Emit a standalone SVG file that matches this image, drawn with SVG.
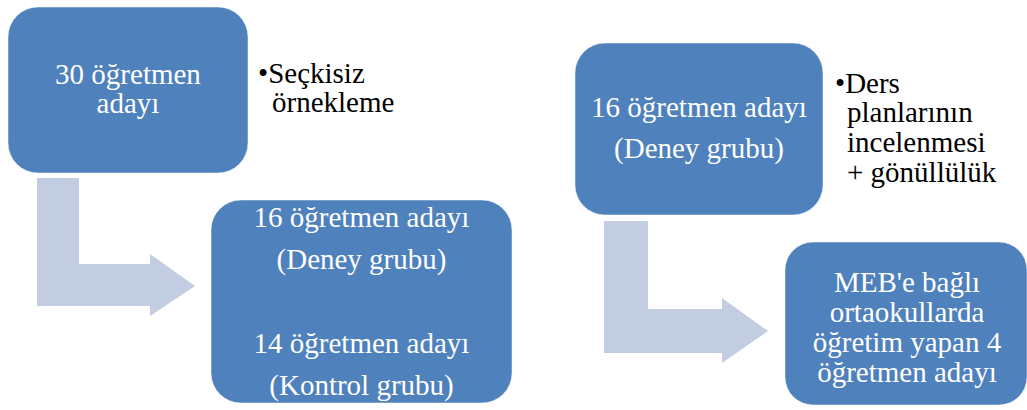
<svg xmlns="http://www.w3.org/2000/svg" width="1027" height="410" viewBox="0 0 1027 410">
  <style>
    .box { fill: #4F81BD; stroke: #FFFFFF; stroke-opacity: 0.5; stroke-width: 1; }
    .flow { fill: #C2CDE1; }
    .lbl { font-family: "Liberation Serif", "Times New Roman", serif; font-size: 29px; fill: #FFFFFF; text-anchor: middle; }
    .note { font-family: "Liberation Serif", "Times New Roman", serif; font-size: 29px; fill: #000000; }
  </style>

  <!-- bent connectors -->
  <g id="connectors">
    <path class="flow" d="M37,178 H79 V264 H150 V254 L195,286 L150,316 V306 H37 Z"/>
    <path class="flow" d="M604,221 H648 V309 H722 V298 L768,331 L722,363 V353 H604 Z"/>
  </g>

  <g id="node-all">
    <rect class="box" x="8" y="7" width="240" height="166" rx="30" ry="30"/>
    <text class="lbl" x="128" y="84">30 öğretmen</text>
    <text class="lbl" x="128" y="113">adayı</text>
  </g>

  <g id="note-sampling">
    <text class="note" x="258" y="83">•Seçkisiz</text>
    <text class="note" x="272" y="112">örnekleme</text>
  </g>

  <g id="node-groups">
    <rect class="box" x="211" y="200" width="301" height="203" rx="30" ry="30"/>
    <text class="lbl" x="361.5" y="227">16 öğretmen adayı</text>
    <text class="lbl" x="361.5" y="269">(Deney grubu)</text>
    <text class="lbl" x="361.5" y="353">14 öğretmen adayı</text>
    <text class="lbl" x="361.5" y="395">(Kontrol grubu)</text>
  </g>

  <g id="node-experiment">
    <rect class="box" x="575" y="43" width="248" height="172" rx="30" ry="30"/>
    <text class="lbl" x="699" y="117">16 öğretmen adayı</text>
    <text class="lbl" x="699" y="158">(Deney grubu)</text>
  </g>

  <g id="note-selection">
    <text class="note" x="835" y="93">•Ders</text>
    <text class="note" x="847" y="122">planlarının</text>
    <text class="note" x="847" y="152">incelenmesi</text>
    <text class="note" x="847" y="182">+ gönüllülük</text>
  </g>

  <g id="node-teachers">
    <rect class="box" x="785" y="242" width="242" height="163" rx="28" ry="28"/>
    <text class="lbl" x="907" y="292">MEB'e bağlı</text>
    <text class="lbl" x="907" y="322">ortaokullarda</text>
    <text class="lbl" x="907" y="352">öğretim yapan 4</text>
    <text class="lbl" x="907" y="382">öğretmen adayı</text>
  </g>
</svg>
